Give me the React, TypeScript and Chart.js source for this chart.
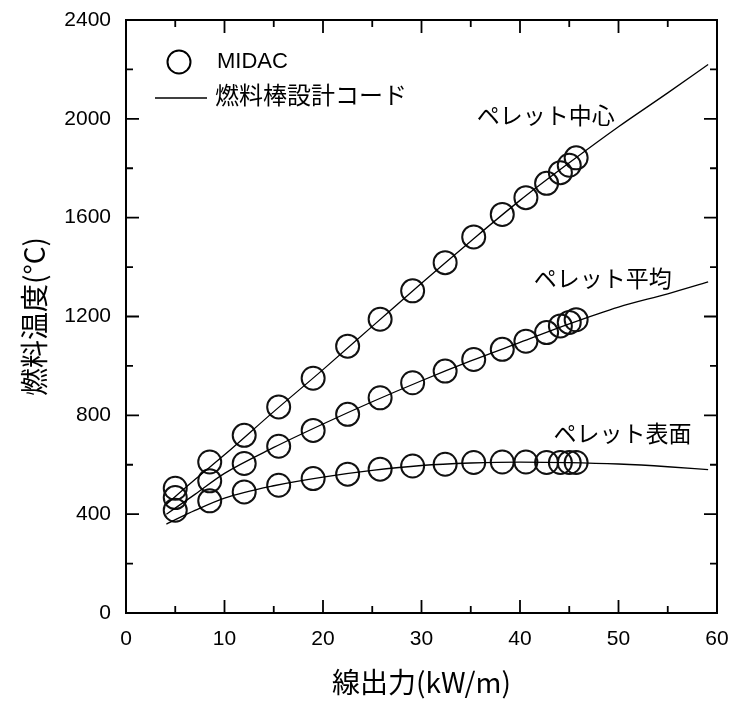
import { useEffect, useRef } from "react";
import { Chart, registerables } from "chart.js";

Chart.register(...registerables);

// MIDAC results (circles)
const powerMidac = [5.0, 8.5, 12.0, 15.5, 19.0, 22.5, 25.8, 29.1, 32.4, 35.3, 38.2, 40.6, 42.7, 44.1, 45.0, 45.7];
const centerMidac = [505, 611, 719, 834, 950, 1080, 1189, 1304, 1418, 1522, 1613, 1681, 1739, 1782, 1812, 1842];
const averageMidac = [467, 535, 605, 675, 739, 804, 871, 932, 979, 1026, 1067, 1100, 1135, 1162, 1176, 1187];
const surfaceMidac = [416, 454, 490, 517, 544, 562, 582, 595, 602, 609, 611, 611, 609, 609, 609, 609];

// Fuel rod design code (lines)
const powerCode = [4.1, 7, 10, 15, 20, 25, 30, 35, 40, 45, 50, 55, 59.1];
const centerCode = [440, 540, 640, 815, 985, 1160, 1335, 1505, 1670, 1822, 1968, 2105, 2220];
const averageCode = [400, 480, 565, 670, 765, 855, 940, 1020, 1095, 1170, 1238, 1292, 1340];
const surfaceCode = [360, 415, 465, 515, 550, 577, 597, 607, 611, 609, 603, 592, 580];

// Axis ticks
const xMajorTicks = [0, 10, 20, 30, 40, 50, 60];
const xMinorTicks = [5, 15, 25, 35, 45, 55];
const yMajorTicks = [0, 400, 800, 1200, 1600, 2000, 2400];
const yMinorTicks = [200, 600, 1000, 1400, 1800, 2200];

// Texts
const curveLabels = ["ペレット中心", "ペレット平均", "ペレット表面"];
const curveLabelX = [35.6, 41.4, 43.4];
const curveLabelY = [2015, 1354, 726];
const legendLabels = ["MIDAC", "燃料棒設計コード"];
const xTitle = "線出力(kW/m)";
const yTitle = "燃料温度(°C)";

const CJK = "'Noto Sans CJK JP', 'Noto Sans', sans-serif";
const LAT = "'Liberation Sans', Arial, sans-serif";

const pts = (xs: number[], ys: number[]) => xs.map((x, i) => ({ x, y: ys[i] }));

const framePlugin = {
  id: "frameAndLabels",
  afterDatasetsDraw(chart: any) {
    const { ctx, chartArea, scales } = chart;
    const { left, right, top, bottom } = chartArea;
    const xs = scales.x;
    const ys = scales.y;
    ctx.save();
    ctx.strokeStyle = "#000";
    ctx.lineWidth = 2;
    ctx.strokeRect(left, top, right - left, bottom - top);
    ctx.lineWidth = 1.8;
    const major = 13;
    const minor = 7;
    const drawX = (v: number, len: number) => {
      const px = xs.getPixelForValue(v);
      ctx.beginPath();
      ctx.moveTo(px, bottom);
      ctx.lineTo(px, bottom - len);
      ctx.moveTo(px, top);
      ctx.lineTo(px, top + len);
      ctx.stroke();
    };
    const drawY = (v: number, len: number) => {
      const py = ys.getPixelForValue(v);
      ctx.beginPath();
      ctx.moveTo(left, py);
      ctx.lineTo(left + len, py);
      ctx.moveTo(right, py);
      ctx.lineTo(right - len, py);
      ctx.stroke();
    };
    xMajorTicks.forEach((v) => drawX(v, major));
    xMinorTicks.forEach((v) => drawX(v, minor));
    yMajorTicks.forEach((v) => drawY(v, major));
    yMinorTicks.forEach((v) => drawY(v, minor));

    // curve labels
    ctx.fillStyle = "#000";
    ctx.textBaseline = "middle";
    ctx.textAlign = "left";
    ctx.font = `23px ${CJK}`;
    curveLabels.forEach((t, i) => {
      ctx.fillText(t, xs.getPixelForValue(curveLabelX[i]), ys.getPixelForValue(curveLabelY[i]));
    });

    // legend
    const ly1 = top + 42;
    const ly2 = top + 75;
    ctx.lineWidth = 2;
    ctx.beginPath();
    ctx.arc(left + 53, ly1, 11.5, 0, Math.PI * 2);
    ctx.stroke();
    ctx.lineWidth = 1.3;
    ctx.beginPath();
    ctx.moveTo(left + 29, top + 78);
    ctx.lineTo(left + 81, top + 78);
    ctx.stroke();
    ctx.font = `22px ${LAT}`;
    ctx.fillText(legendLabels[0], left + 91, ly1);
    ctx.font = `24px ${CJK}`;
    ctx.fillText(legendLabels[1], left + 89, ly2);
    ctx.restore();
  },
};

export default function App() {
  const ref = useRef<HTMLCanvasElement>(null);
  useEffect(() => {
    if (!ref.current) return;
    const lineDs = (ys: number[]) => ({
      type: "line" as const,
      data: pts(powerCode, ys),
      showLine: true,
      borderColor: "#000",
      borderWidth: 1.3,
      pointRadius: 0,
      cubicInterpolationMode: "monotone" as const,
      fill: false,
    });
    const pointDs = (ys: number[]) => ({
      type: "scatter" as const,
      data: pts(powerMidac, ys),
      showLine: false,
      borderColor: "#111",
      backgroundColor: "rgba(0,0,0,0)",
      borderWidth: 2,
      pointRadius: 11.5,
      pointStyle: "circle",
    });
    const chart = new Chart(ref.current, {
      type: "scatter",
      data: {
        datasets: [
          lineDs(centerCode),
          lineDs(averageCode),
          lineDs(surfaceCode),
          pointDs(centerMidac),
          pointDs(averageMidac),
          pointDs(surfaceMidac),
        ] as any,
      },
      options: {
        animation: false,
        responsive: false,
        devicePixelRatio: 1,
        layout: { padding: { top: 20, right: 19, left: 0, bottom: 0 } },
        plugins: { legend: { display: false }, tooltip: { enabled: false } },
        scales: {
          x: {
            type: "linear",
            min: 0,
            max: 60,
            afterFit: (s: any) => {
              s.height = 91;
              s.paddingLeft = 0;
              s.paddingRight = 0;
            },
            ticks: {
              stepSize: 10,
              color: "#000",
              font: { family: LAT, size: 21 },
              padding: 14,
              callback: (v: any) => String(v),
            },
            grid: { display: false, drawTicks: false },
            border: { display: false },
            title: {
              display: true,
              text: xTitle,
              color: "#000",
              font: { family: CJK, size: 28 },
              padding: { top: 0, bottom: 5 },
            },
          },
          y: {
            type: "linear",
            min: 0,
            max: 2400,
            afterFit: (s: any) => {
              s.width = 126;
              s.paddingTop = 0;
              s.paddingBottom = 0;
            },
            ticks: {
              stepSize: 400,
              color: "#000",
              font: { family: LAT, size: 21 },
              padding: 15,
              callback: (v: any) => String(v),
            },
            grid: { display: false, drawTicks: false },
            border: { display: false },
            title: {
              display: true,
              text: yTitle,
              color: "#000",
              font: { family: CJK, size: 28 },
              padding: { top: 18, bottom: 0 },
            },
          },
        },
      },
      plugins: [framePlugin],
    });
    return () => chart.destroy();
  }, []);
  return (
    <div style={{ position: "fixed", left: 0, top: 0, width: 736, height: 704, background: "#fff" }}>
      <canvas ref={ref} width={736} height={704} />
    </div>
  );
}
